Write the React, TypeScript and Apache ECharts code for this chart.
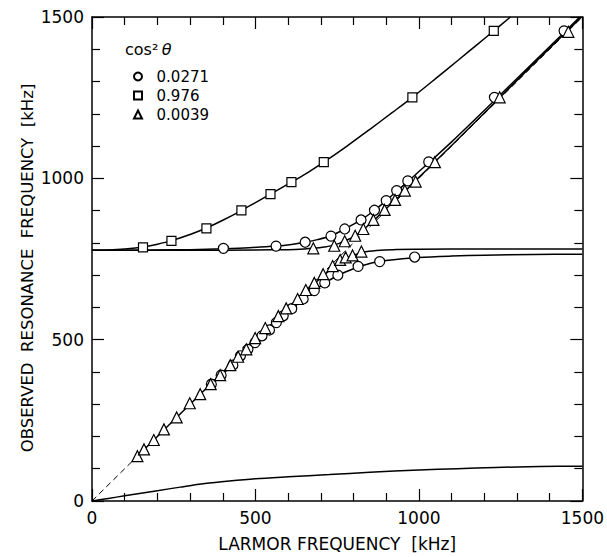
import React, { useEffect, useRef } from 'react';
import * as echarts from 'echarts';

// Axis ranges
const X_MIN = 0;
const X_MAX = 1500;
const Y_MIN = 0;
const Y_MAX = 1500;

// Legend labels (cos^2 theta values)
const legendNames = ['0.0271', '0.976', '0.0039'];

// Measured points: cos^2 theta = 0.0271 (circles)
const circleX = [402, 563, 652, 731, 773, 823, 864, 900, 932, 966, 1030, 1231, 1444,
  365, 395, 431, 454, 477, 499, 520, 543, 564, 585, 611, 646, 680, 712, 752, 814, 880, 987];
const circleY = [783, 790, 802, 821, 843, 871, 901, 931, 962, 992, 1051, 1251, 1457,
  362, 390, 421, 450, 470, 491, 512, 530, 553, 574, 596, 626, 652, 676, 700, 727, 742, 756];

// Measured points: cos^2 theta = 0.976 (squares)
const squareX = [156, 243, 350, 457, 546, 610, 709, 980, 1229];
const squareY = [786, 806, 845, 901, 951, 988, 1050, 1251, 1457];

// Measured points: cos^2 theta = 0.0039 (triangles)
const triX = [677, 741, 773, 805, 830, 861, 895, 927, 957, 990, 1049, 1247, 1457,
  139, 159, 189, 220, 259, 299, 331, 363, 392, 423, 447, 472, 499, 530, 570, 594, 629, 654, 680, 707, 736, 759, 776, 797, 824];
const triY = [783, 791, 805, 822, 843, 871, 902, 933, 962, 990, 1050, 1251, 1454,
  139, 160, 189, 222, 259, 303, 331, 362, 390, 421, 447, 470, 505, 536, 573, 597, 626, 654, 676, 703, 728, 747, 755, 761, 773];

// Theoretical curves
const squareFitX = [0, 50, 100, 156, 200, 243, 300, 350, 400, 457, 500, 546, 610, 660, 709, 780, 850, 920, 980, 1050, 1120, 1180, 1229, 1280];
const squareFitY = [777, 778, 781, 787, 796, 807, 826, 846, 870, 900, 925, 951, 988, 1018, 1050, 1100, 1152, 1205, 1251, 1308, 1366, 1416, 1457, 1500];

const circleUpFitX = [0, 100, 200, 300, 402, 480, 563, 610, 652, 690, 731, 773, 823, 864, 900, 932, 966, 1000, 1030, 1100, 1231, 1350, 1444, 1492];
const circleUpFitY = [777, 777, 778, 779, 782, 785, 790, 795, 802, 810, 822, 843, 871, 901, 931, 960, 990, 1021, 1048, 1113, 1241, 1359, 1452, 1500];

const circleLowFitX = [365, 430, 500, 550, 600, 650, 700, 750, 800, 850, 900, 950, 1000, 1100, 1200, 1350, 1500];
const circleLowFitY = [362, 422, 491, 538, 585, 628, 667, 698, 720, 736, 745, 751, 755, 759, 762, 764, 765];

const triUpFitX = [0, 300, 500, 600, 650, 677, 710, 741, 773, 805, 830, 861, 895, 927, 960, 1000, 1050, 1150, 1250, 1350, 1450, 1497];
const triUpFitY = [777, 777, 778, 779, 781, 783, 787, 793, 806, 822, 841, 869, 901, 932, 963, 1003, 1052, 1152, 1253, 1354, 1453, 1500];

const triLowFitX = [139, 200, 300, 400, 500, 560, 620, 670, 710, 740, 770, 800, 830, 870, 920, 1000, 1200, 1500];
const triLowFitY = [139, 200, 300, 399, 499, 558, 616, 664, 700, 727, 748, 762, 771, 776, 779, 780, 781, 781];

const bottomFitX = [0, 50, 100, 150, 200, 270, 345, 420, 500, 600, 726, 850, 1000, 1117, 1234, 1370, 1500];
const bottomFitY = [0, 8, 16, 24, 32, 43, 54, 62, 69, 75, 82, 89, 96, 100, 104, 107, 108];

const diagX = [0, 1500];
const diagY = [0, 1500];

const zip = (xs: number[], ys: number[]) => xs.map((x, i) => [x, ys[i]]);

export default function App() {
  const ref = useRef<HTMLDivElement>(null);
  useEffect(() => {
    const chart = echarts.init(ref.current!, null, { renderer: 'svg' });
    const font = 'DejaVu Sans';
    const black = '#000';

    const axisBase = (pos: string, showLabel: boolean) => ({
      type: 'value',
      position: pos,
      min: X_MIN,
      max: X_MAX,
      interval: 500,
      axisLine: { show: true, onZero: false, lineStyle: { color: black, width: 1.5 } },
      axisTick: { show: true, inside: true, length: 12, lineStyle: { color: black, width: 1.2 } },
      minorTick: { show: true, splitNumber: 5, length: 8, lineStyle: { color: black, width: 1.2 } },
      axisLabel: {
        show: showLabel,
        color: black,
        fontFamily: font,
        fontSize: 17,
        margin: 8,
        formatter: (v: number) => String(v),
      },
      splitLine: { show: false },
      minorSplitLine: { show: false },
    });

    const fitLine = (name: string, xs: number[], ys: number[]) => ({
      type: 'line',
      name,
      data: zip(xs, ys),
      smooth: 0.3,
      symbol: 'none',
      showSymbol: false,
      silent: true,
      lineStyle: { color: black, width: 1.5 },
      z: 2,
    });

    const markers = (name: string, symbol: string, size: number, xs: number[], ys: number[]) => ({
      type: 'scatter',
      name,
      data: zip(xs, ys),
      symbol,
      symbolSize: size,
      itemStyle: { color: '#fff', borderColor: black, borderWidth: 1.2, opacity: 1 },
      z: 5,
    });

    chart.setOption({
      animation: false,
      backgroundColor: '#fff',
      textStyle: { fontFamily: font, color: black },
      grid: { left: 92, right: 23, top: 17, bottom: 56 },
      xAxis: [
        {
          ...axisBase('bottom', true),
          name: 'LARMOR FREQUENCY  [kHz]',
          nameLocation: 'middle',
          nameGap: 34,
          nameMoveOverlap: false,
          nameTextStyle: { color: black, fontFamily: font, fontSize: 17 },
        },
        axisBase('top', false),
      ],
      yAxis: [
        {
          ...axisBase('left', true),
          min: Y_MIN,
          max: Y_MAX,
          name: 'OBSERVED  RESONANCE  FREQUENCY  [kHz]',
          nameLocation: 'middle',
          nameGap: 56,
          nameMoveOverlap: false,
          nameTextStyle: { color: black, fontFamily: font, fontSize: 16.5, padding: [0, 18, 0, 0] },
        },
        { ...axisBase('right', false), min: Y_MIN, max: Y_MAX },
      ],
      legend: {
        data: legendNames,
        orient: 'vertical',
        left: 128,
        top: 64,
        itemWidth: 8,
        itemHeight: 8,
        itemGap: 4,
        symbolKeepAspect: true,
        formatter: (n: string) => '  ' + n,
        textStyle: { color: black, fontFamily: font, fontSize: 15, lineHeight: 15 },
        selectedMode: false,
      },
      graphic: [
        {
          type: 'text',
          left: 125,
          top: 41,
          style: {
            text: '{a|cos²} {b|θ}',
            rich: {
              a: { fontFamily: font, fontSize: 16, fill: black },
              b: { fontFamily: font, fontSize: 16, fontStyle: 'italic', fill: black },
            },
          },
        },
      ],
      series: [
        {
          type: 'line',
          name: 'diag',
          data: zip(diagX, diagY),
          symbol: 'none',
          showSymbol: false,
          silent: true,
          lineStyle: { color: black, width: 1, type: [6, 4] },
          z: 1,
        },
        fitLine('fitSq', squareFitX, squareFitY),
        fitLine('fitCircUp', circleUpFitX, circleUpFitY),
        fitLine('fitCircLow', circleLowFitX, circleLowFitY),
        fitLine('fitTriUp', triUpFitX, triUpFitY),
        fitLine('fitTriLow', triLowFitX, triLowFitY),
        fitLine('fitBottom', bottomFitX, bottomFitY),
        markers(legendNames[0], 'circle', 10, circleX, circleY),
        markers(legendNames[1], 'rect', 9, squareX, squareY),
        markers(legendNames[2], 'triangle', 11, triX, triY),
      ],
    });
    return () => chart.dispose();
  }, []);
  return (
    <div
      ref={ref}
      style={{ position: 'absolute', left: 0, top: 0, width: 607, height: 557, background: '#fff' }}
    />
  );
}
